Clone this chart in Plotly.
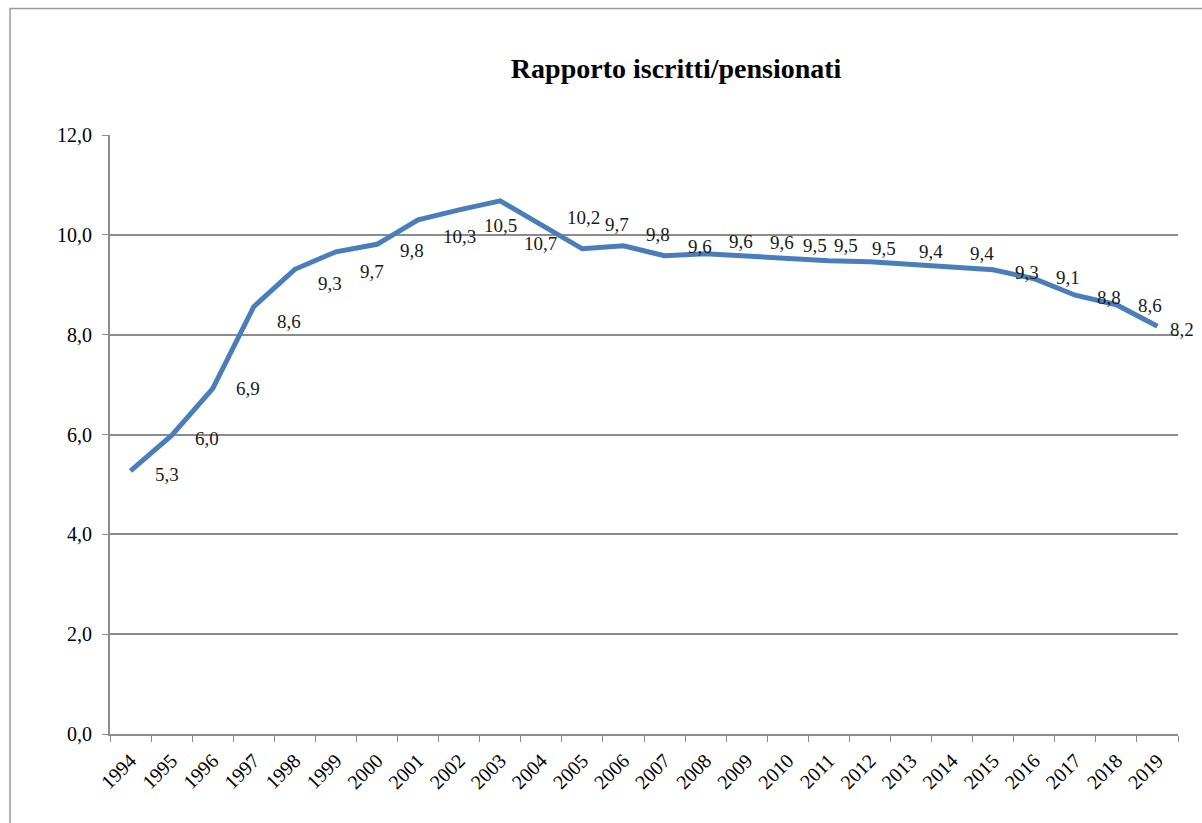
import plotly.graph_objects as go

# Rapporto iscritti/pensionati, 1994-2019
anni = [str(a) for a in range(1994, 2020)]
rapporto = [5.27, 5.98, 6.92, 8.56, 9.31, 9.66, 9.81, 10.30, 10.50, 10.68,
            10.20, 9.72, 9.78, 9.58, 9.62, 9.57, 9.52, 9.48, 9.46, 9.41,
            9.37, 9.30, 9.12, 8.79, 8.60, 8.17]

# nudge (px) of each data label from its point, as placed in the original
label_dy = [4, 3, 0, 15, 14, 20, 6, 17, 16, 43, -7, -24, -11, -9, -12, -14,
            -13, -15, -13, -13, -13, 3, -1, 2, 1, 3]
label_dx = [36, 35, 35, 35, 35, 36, 35, 41, 41, 40, 42, 35, 35, 35, 35, 35,
            27, 17, 14, 20, 30, 34, 34, 34, 34, 25]

SERIF = "Liberation Serif"
GREY = "#8c8c8c"

fig = go.Figure()
fig.add_trace(go.Scatter(x=anni, y=rapporto, mode="lines",
                         line=dict(color="#4a7ebb", width=5),
                         showlegend=False, hoverinfo="x+y"))

labels = []
for i, (v, dx, dy) in enumerate(zip(rapporto, label_dx, label_dy)):
    labels.append(dict(x=i, y=v, xref="x", yref="y",
                       text=f"{v:.1f}".replace(".", ","),
                       showarrow=False, xshift=dx, yshift=-dy,
                       font=dict(family=SERIF, size=19, color="#1a1a1a")))

# outer chart border (top and left only are visible in the original)
fig.add_shape(type="rect", xref="paper", yref="paper",
              x0=-0.0936, x1=1.2, y0=-0.3, y1=1.211,
              line=dict(color="#9a9a9a", width=1.5), layer="below")

fig.update_layout(
    width=1202, height=823,
    margin=dict(l=110, r=24, t=135, b=89),
    paper_bgcolor="white", plot_bgcolor="white",
    separators=",.",
    annotations=labels,
    title=dict(text="<b>Rapporto iscritti/pensionati</b>", x=0.5625,
               xanchor="center", y=1 - 68 / 823, yanchor="middle",
               font=dict(family=SERIF, size=28, color="black")),
    xaxis=dict(type="category", range=[-0.5, 25.5], tickson="boundaries",
               ticks="outside", ticklen=6, tickcolor=GREY, tickangle=-45,
               showline=True, linecolor=GREY, linewidth=2, showgrid=False,
               ticklabelstandoff=5,
               tickfont=dict(family=SERIF, size=20, color="black")),
    yaxis=dict(range=[0, 12], dtick=2, tickformat=".1f", ticks="outside",
               ticklen=6, tickcolor=GREY, showline=True, linecolor=GREY,
               linewidth=2, gridcolor=GREY, gridwidth=1.5, zeroline=False,
               ticklabelstandoff=6,
               tickfont=dict(family=SERIF, size=20, color="black")),
)

fig.write_html("out.html", config={"displayModeBar": False},
               post_script="document.body.style.margin='0';")
